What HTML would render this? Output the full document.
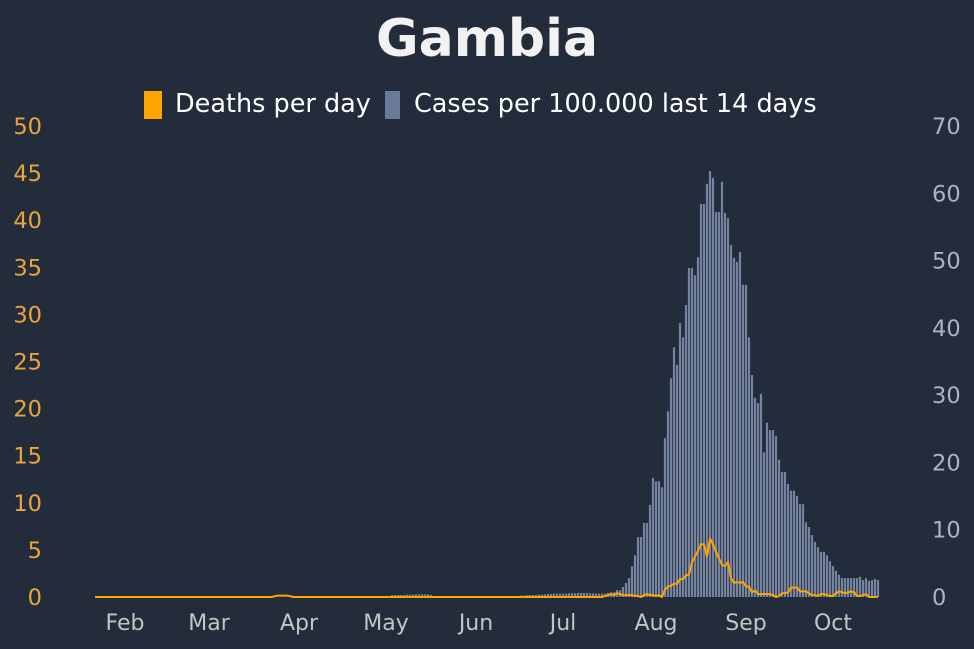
<!DOCTYPE html>
<html><head><meta charset="utf-8">
<style>
html,body{margin:0;padding:0;background:#232c3b;}
svg{display:block;font-family:"DejaVu Sans","Liberation Sans",sans-serif;}
</style></head>
<body>
<svg id="chart" width="974" height="649" viewBox="0 0 974 649">
<rect x="0" y="0" width="974" height="649" fill="#232c3b"/>
<text x="487" y="56" text-anchor="middle" font-size="52" font-weight="bold" fill="#f2f2f2">Gambia</text>
<g>
<rect x="144" y="91" width="18" height="28" fill="#ffa500"/>
<text x="175" y="112" font-size="25.5" fill="#ffffff">Deaths per day</text>
<rect x="385" y="91" width="15" height="28" fill="#6b7a96"/>
<text x="414" y="112" font-size="25.5" fill="#ffffff">Cases per 100.000 last 14 days</text>
</g>
<g id="bars"></g>
<g id="line"></g>
<g id="yl"></g>
<g id="yr"></g>
<g id="xa"></g>
</svg>
<script>
const casesPrefix = [0,0,0,0,0,0,0,0,0,0,0,0,0,0,0,0,0,0,0,0,0,0,0,0,0,0,0,0,0,0,0,0,0,0,0,0,0,0,0,0,0,0,0,0,0,0,0,0,0,0,0,0,0,0,0,0,0,0,0,0,0,0,0,0,0,0,0,0,0,0,0,0,0,0,0,0,0,0,
0.15,0.15,0.15,0.15,0.15,0.15,0.15,0.15,0.15,0.15,0.15,0.15,0.15,0.15,0.15,
0,0,0,0,0,0,
0.3,0.3,0.3,0.3,0.3,0.35,0.35,0.35,0.4,0.4,0.4,0.4,0.4,0.3,
0.1,0.1,0.1,0.1,0.1,0.1,0.1,0.1,
0,0,0,0,0,0,0,0,0,0,0,0,0,0,0,0,0,0,0,0,0,
0.2,0.2,0.25,0.3,0.3,0.3,0.35,0.35,0.4,
0.45,0.45,0.5,0.5,0.5,0.5,0.5,0.55,0.55,0.55,0.6,0.6,0.6,0.6,0.55,0.55,0.5,0.5,0.5,0.5];
const casesMain = [0.6,0.7,0.7,1.0,1.0,1.5,2.1,2.8,4.6,6.2,
8.9,8.9,11,11,13.7,17.7,17.2,17.2,16.3,23.6,
27.6,32.5,37.1,34.5,40.7,38.6,43.4,48.9,48.9,47.8,
50.5,58.4,58.4,61.4,63.3,62.3,57.2,57.2,61.7,57.1,
56.3,52.3,50.4,49.8,51.3,46.4,46.4,38.6,33,29.6,
28.8,30.2,21.5,25.9,24.8,24.8,23.9,20.4,18.6,18.6,
16.8,15.8,15.8,15,13.8,13.8,11.1,10.4,9.2,8.2,
7.4,6.7,6.7,6.2,5.3,4.6,3.9,3.3,2.8,2.8,
2.8,2.8,2.8,2.8,3.0,2.5,2.8,2.4,2.5,2.7,2.5];
const cases = casesPrefix.concat(casesMain);
const deaths = [0,0,0,0,0,0,0,0,0,0,0,0,0,0,0,0,0,0,0,0,0,0,0,0,0,0,0,0,0,0,0,0,0,0,0,0,0,0,0,0,0,0,0,0,0,0,0,0,0,0,0,0,0,0,0,0,0,0,0,0,
0.1,0.15,0.15,0.15,0.15,0.1,
0,0,0,0,0,0,0,0,0,0,0,0,0,0,0,0,0,0,0,0,0,0,0,0,0,0,0,0,0,0,0,0,0,0,0,0,0,0,0,0,0,0,0,0,0,0,0,0,0,0,0,0,0,0,0,0,0,0,0,0,0,0,0,0,0,0,0,0,0,0,0,0,0,0,0,0,0,0,0,0,0,0,0,0,0,0,0,0,0,0,0,0,0,0,0,0,0,0,0,0,0,0,0,0,
0.1,0.2,0.3,0.2,0.4,0.3,0.2,0.2,0.2,0.2,0.1,0.1,0,0.2,0.3,0.2,0.2,0.1,
0.2,0.0,0.8,1.1,1.2,1.4,1.4,1.9,1.9,2.3,2.4,3.7,4.3,4.9,5.6,5.6,4.3,6.2,5.6,4.8,4.1,3.4,3.3,3.7,2.0,1.5,1.6,1.5,1.6,1.1,1.1,0.5,0.7,0.3,
0.3,0.3,0.3,0.3,0.2,0.0,0.1,0.4,0.4,0.5,1.0,1.0,1.0,0.6,0.6,0.6,0.4,0.2,0.2,0.1,0.3,0.3,0.2,0.1,0.1,0.4,0.6,0.5,0.4,0.5,0.6,0.5,0.1,0.1,0.2,0.3,0,0,0,0];
const leftTicks = [0,5,10,15,20,25,30,35,40,45,50];
const rightTicks = [0,10,20,30,40,50,60,70];
const monthLabels = ["Feb","Mar","Apr","May","Jun","Jul","Aug","Sep","Oct"];
const monthIdx = [10,38,68,97,127,156,187,217,246];

const NS="http://www.w3.org/2000/svg";
const X0=95, X1=878, Y0=597, YT=126;
const N=cases.length;
function xS(i){return X0+(X1-X0)*i/(N-1);}
function yL(v){return Y0-(Y0-YT)*v/50;}
function yR(v){return Y0-(Y0-YT)*v/70;}
function mk(t,a,p){const e=document.createElementNS(NS,t);for(const k in a)e.setAttribute(k,a[k]);p.appendChild(e);return e;}

const bars=document.getElementById('bars');
const bw=(X1-X0)/(N-1);
cases.forEach((v,i)=>{
  if(v<=0)return;
  const y=yR(v);
  const r=mk('rect',{x:(xS(i)-bw/2+0.4).toFixed(2),y:y.toFixed(2),width:(bw-0.8).toFixed(2),height:(Y0-y).toFixed(2),fill:'#75849e'},bars);
  
  
});
const lg=document.getElementById('line');
const pl=mk('polyline',{points:deaths.map((v,i)=>xS(i).toFixed(2)+','+yL(v).toFixed(2)).join(' '),fill:'none',stroke:'#ffa500','stroke-width':2,'stroke-linejoin':'round'},lg);



const yl=document.getElementById('yl');
leftTicks.forEach(v=>{
  const t=mk('text',{x:42,y:(yL(v)+8).toFixed(1),'text-anchor':'end','font-size':22.5,fill:'#e9a53c'},yl);
  t.textContent=v;
  
  
});
const yr=document.getElementById('yr');
rightTicks.forEach(v=>{
  const t=mk('text',{x:932,y:(yR(v)+8).toFixed(1),'font-size':22.5,fill:'#aab4c6'},yr);
  t.textContent=v;
  
  
});
const xa=document.getElementById('xa');
monthLabels.forEach((m,k)=>{
  const t=mk('text',{x:xS(monthIdx[k]).toFixed(1),y:630,'text-anchor':'middle','font-size':22,fill:'#c4c4c4'},xa);
  t.textContent=m;
  
  
});
</script>
</body></html>
